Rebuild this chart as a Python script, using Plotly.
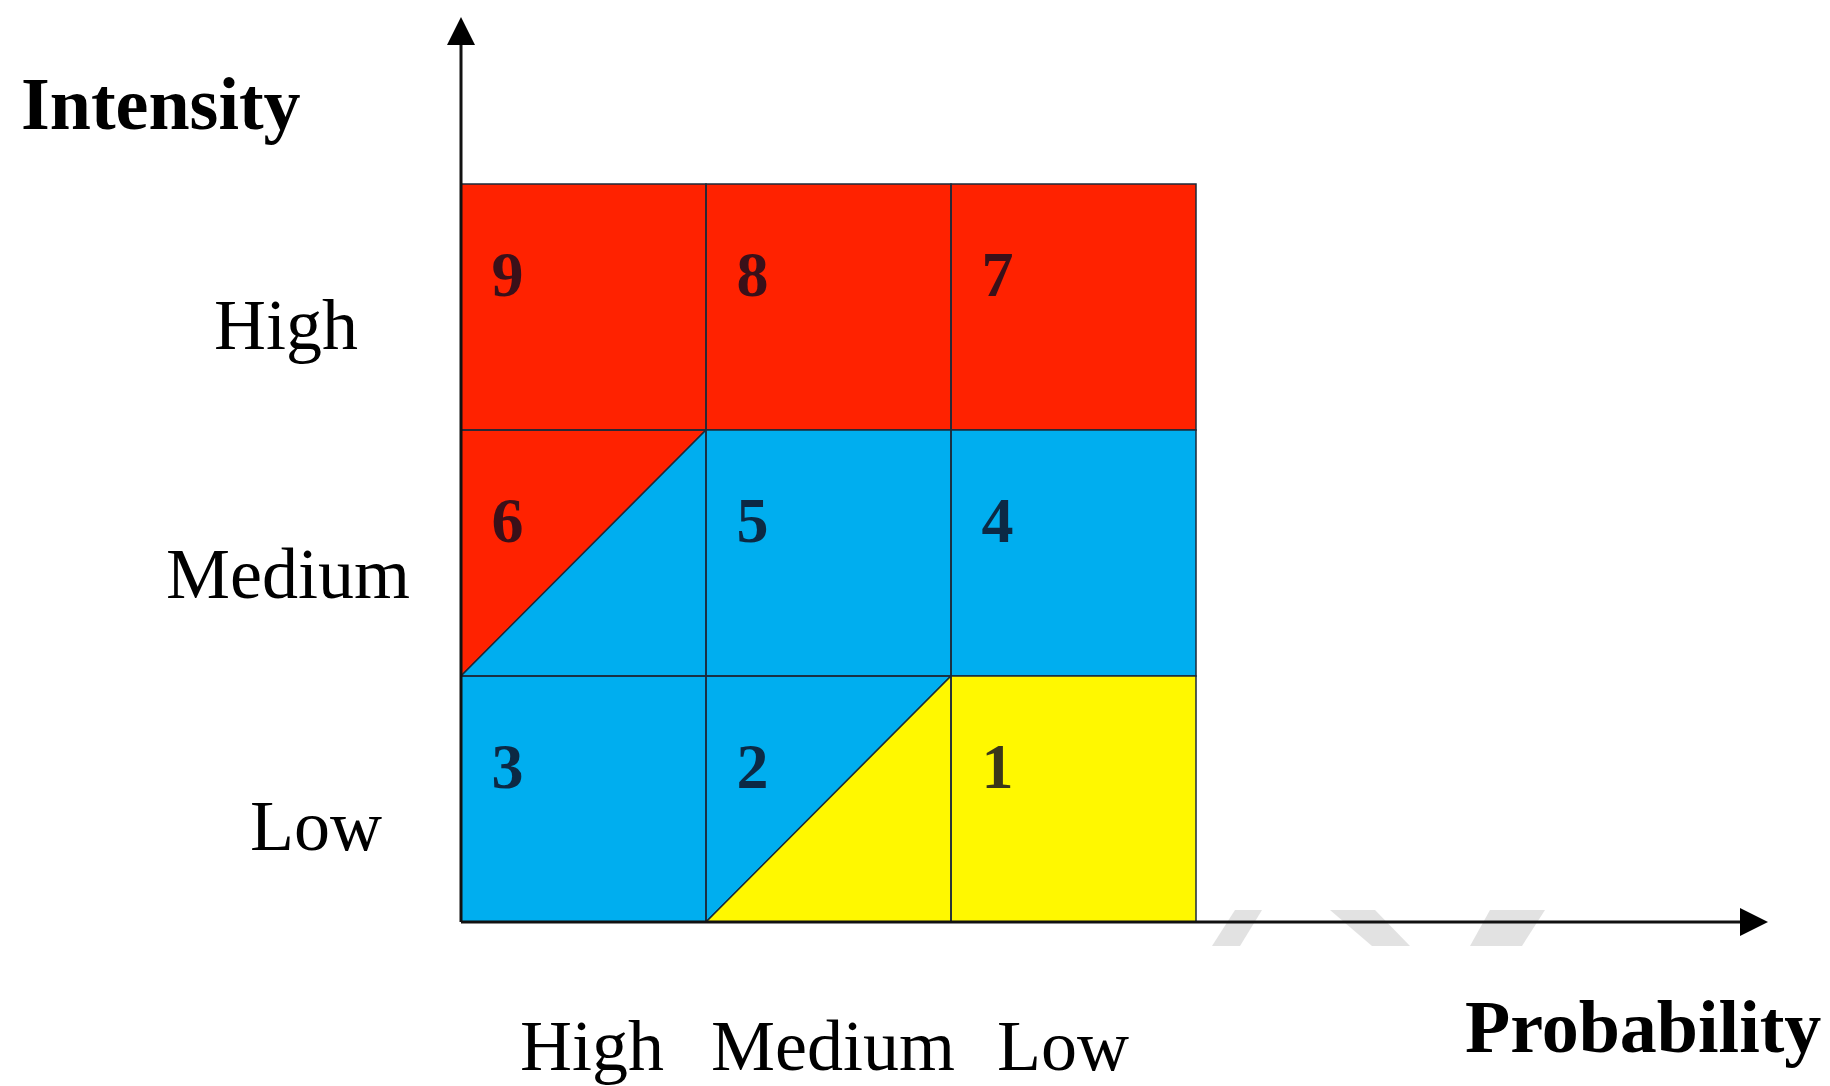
import plotly.graph_objects as go

# risk matrix: probability across, intensity up
prob_labels = ["High", "Medium", "Low"]
intensity_labels = ["Low", "Medium", "High"]

risk_number = [3, 2, 1, 6, 5, 4, 9, 8, 7]
risk_col = [0, 1, 2, 0, 1, 2, 0, 1, 2]
risk_row = [0, 0, 0, 1, 1, 1, 2, 2, 2]
risk_zone = ["blue", "blue", "yellow", "blue", "blue", "blue", "red", "red", "red"]

# cells cut along the diagonal, with the zone of the cut-off triangle
split_number = [6, 2]
split_zone = ["red", "yellow"]
split_part = ["upper-left", "lower-right"]

zone_colors = {"red": "#FF2200", "blue": "#00AEEF", "yellow": "#FFF800"}

# full page, body margin removed in post_script below
W, H = 1830, 1086
X0_PX, Y0_PX, CELL_W, CELL_H = 461, 922, 245, 246


def px_x(p):
    return (p - X0_PX) / CELL_W


def px_y(p):
    return (Y0_PX - p) / CELL_H


def triangle(c, r, part):
    if part == "upper-left":
        return [c, c, c + 1, c], [r, r + 1, r + 1, r]
    return [c, c + 1, c + 1, c], [r, r + 1, r, r]


polys = {z: ([], []) for z in zone_colors}
for num, c, r, z in zip(risk_number, risk_col, risk_row, risk_zone):
    if num in split_number:
        k = split_number.index(num)
        part = split_part[k]
        other = "lower-right" if part == "upper-left" else "upper-left"
        for zz, pp in ((split_zone[k], part), (z, other)):
            xs, ys = triangle(c, r, pp)
            polys[zz][0].extend(xs + [None])
            polys[zz][1].extend(ys + [None])
    else:
        polys[z][0].extend([c, c + 1, c + 1, c, c, None])
        polys[z][1].extend([r, r, r + 1, r + 1, r, None])

fig = go.Figure()
for z, (xs, ys) in polys.items():
    fig.add_trace(go.Scatter(
        x=xs, y=ys, mode="lines", fill="toself",
        fillcolor=zone_colors[z],
        line=dict(color="#1c2a3a", width=1.5),
        hoverinfo="skip", showlegend=False))

# cell numbers, upper-left part of each cell
fig.add_trace(go.Scatter(
    x=[c + 0.19 for c in risk_col],
    y=[r + 0.61 for r in risk_row],
    text=["<b>%d</b>" % n for n in risk_number],
    mode="text",
    textfont=dict(family="Liberation Serif", size=64, color="rgba(15,12,30,0.82)"),
    hoverinfo="skip", showlegend=False))

shapes = []
# faint watermark fragments under the x axis
for top, bot in [((1235, 1262), (1240, 1212)),
                 ((1330, 1375), (1410, 1372)),
                 ((1490, 1545), (1522, 1470))]:
    path = "M {} {} L {} {} L {} {} L {} {} Z".format(
        px_x(top[0]), px_y(910), px_x(top[1]), px_y(910),
        px_x(bot[0]), px_y(946), px_x(bot[1]), px_y(946))
    shapes.append(dict(type="path", path=path, fillcolor="#e2e2e2",
                       line=dict(width=0), layer="below"))

# axes with arrowheads
shapes.append(dict(type="line", x0=0, y0=0, x1=0, y1=px_y(40),
                   line=dict(color="#111", width=3)))
shapes.append(dict(type="line", x0=0, y0=0, x1=px_x(1745), y1=0,
                   line=dict(color="#111", width=3)))
shapes.append(dict(type="path", path="M {} {} L {} {} L {} {} Z".format(
    px_x(461), px_y(17), px_x(447), px_y(45), px_x(475), px_y(45)),
    fillcolor="#000", line=dict(width=0)))
shapes.append(dict(type="path", path="M {} {} L {} {} L {} {} Z".format(
    px_x(1768), 0, px_x(1740), px_y(908), px_x(1740), px_y(936)),
    fillcolor="#000", line=dict(width=0)))

label_font = dict(family="Liberation Serif", size=72, color="#000")
title_font = dict(family="Liberation Serif", size=74, color="#000")
annotations = []
# y labels sit a bit below the row centres
y_label_x = [316, 288, 286]
y_label_shift = [-27, -21, -18]
for i, lab in enumerate(intensity_labels):
    annotations.append(dict(x=px_x(y_label_x[i]), y=i + 0.5, text=lab, showarrow=False,
                            xanchor="center", yanchor="middle", yshift=y_label_shift[i],
                            font=label_font))
x_label_shift = [8, 4, -11]
for i, lab in enumerate(prob_labels):
    annotations.append(dict(x=i + 0.5, y=px_y(1046), text=lab, showarrow=False,
                            xanchor="center", yanchor="middle", xshift=x_label_shift[i],
                            font=label_font))
annotations.append(dict(x=px_x(19), y=px_y(104), text="<b>Intensity</b>", showarrow=False,
                        xanchor="left", yanchor="middle", font=title_font))
annotations.append(dict(x=px_x(1643), y=px_y(1027), text="<b>Probability</b>", showarrow=False,
                        xanchor="center", yanchor="middle", font=title_font))

fig.update_layout(
    width=W, height=H,
    margin=dict(l=0, r=0, t=0, b=0),
    paper_bgcolor="white", plot_bgcolor="white",
    xaxis=dict(range=[px_x(0), px_x(W)], visible=False, fixedrange=True),
    yaxis=dict(range=[px_y(H), px_y(0)], visible=False, fixedrange=True),
    shapes=shapes, annotations=annotations,
)

fig.write_html("out.html", config={"displayModeBar": False},
               post_script="document.body.style.margin='0px';"
                           "document.body.style.overflow='hidden';")
